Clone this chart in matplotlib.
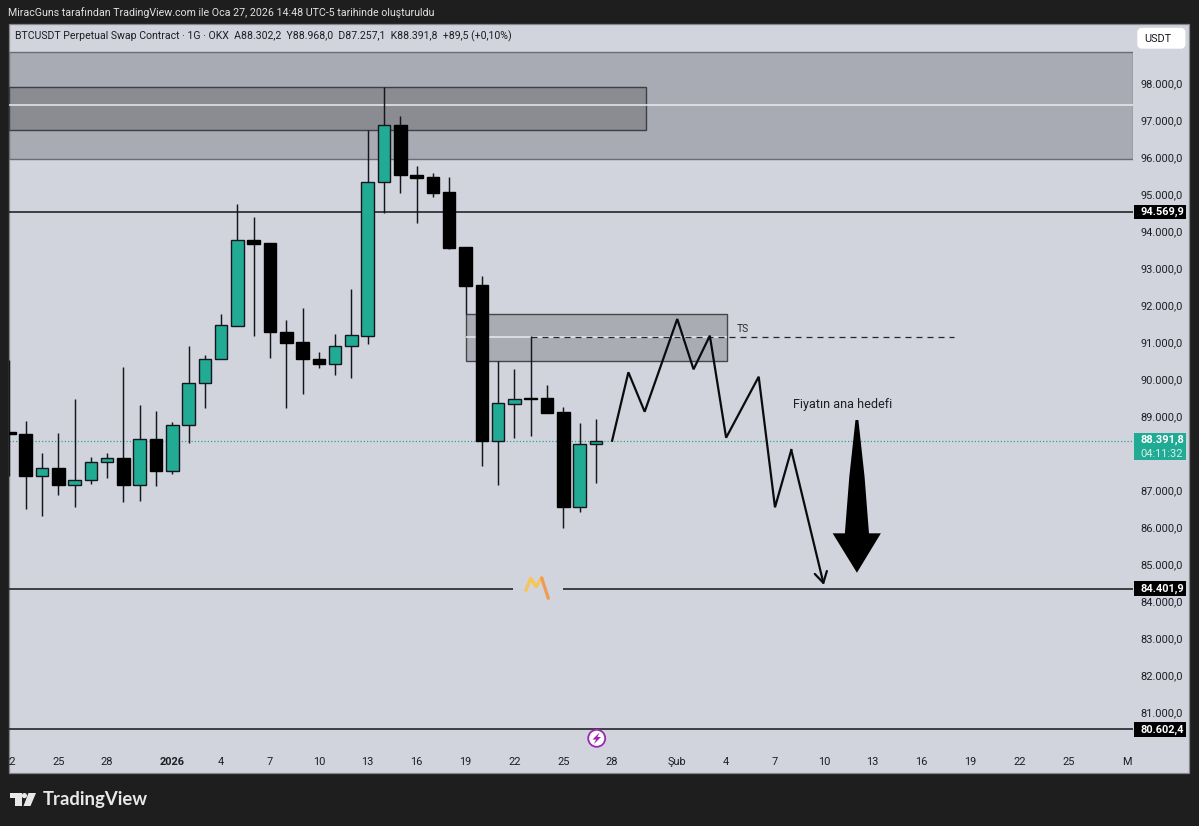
import matplotlib
matplotlib.use("Agg")
import matplotlib.pyplot as plt
from matplotlib.patches import Rectangle, Circle, Polygon, FancyBboxPatch
from matplotlib.transforms import ScaledTranslation

FONT = "Roboto"
plt.rcParams["font.family"] = [FONT, "DejaVu Sans"]

# daily candles, first one is cut by the left edge of the pane
days = list(range(-1, 36))
opens = [88630, 88585, 87443, 87651, 87192, 87327, 87821, 87929, 87192, 88442, 87586, 88812, 89946, 90590,
         91493, 93815, 93726, 91339, 91061, 90610, 90459, 90961, 91231, 95389, 96928, 95578, 95508, 95111,
         93634, 92600, 88388, 89395, 89549, 89557, 89179, 86614, 88302.2]
highs = [90574, 88928, 88056, 88596, 89530, 87956, 88072, 90386, 89368, 89206, 88901, 90953, 90710, 91817,
         94787, 94436, 93726, 91655, 91987, 90799, 91277, 92500, 96785, 97946, 97163, 95821, 95632, 95508,
         93634, 92851, 90548, 90332, 91223, 89908, 89306, 88874, 88968]
lows = [87442, 86544, 86363, 86922, 86614, 87227, 87389, 86749, 86776, 87181, 87505, 88342, 89279, 90590,
        91493, 91231, 90629, 89287, 89657, 90367, 90178, 90081, 91007, 94536, 95092, 94266, 94984, 93572,
        91817, 87721, 87200, 88469, 88523, 89136, 86047, 86479, 87257.1]
closes = [88563, 87443, 87651, 87192, 87335, 87829, 87921, 87192, 88442, 87586, 88812, 89946, 90594, 91520,
          93807, 93707, 91331, 91042, 90602, 90459, 90961, 91250, 95381, 96920, 95570, 95497, 95092, 93607,
          92581, 88388, 89406, 89530, 89514, 89152, 86614, 88299, 88391.8]

price_ticks = [98000, 97000, 96000, 95000, 94000, 93000, 92000, 91000, 90000, 89000, 88000, 87000, 86000,
               85000, 84000, 83000, 82000, 81000]
price_labels = ["98.000,0", "97.000,0", "96.000,0", "95.000,0", "94.000,0", "93.000,0", "92.000,0", "91.000,0",
                "90.000,0", "89.000,0", "88.000,0", "87.000,0", "86.000,0", "85.000,0", "84.000,0", "83.000,0",
                "82.000,0", "81.000,0"]

date_ticks = [-1, 2, 5, 9, 12, 15, 18, 21, 24, 27, 30, 33, 36, 40, 43, 46, 49, 52, 55, 58, 61, 64, 67.6]
date_labels = ["22", "25", "28", "2026", "4", "7", "10", "13", "16", "19", "22", "25", "28", "Şub", "4", "7",
               "10", "13", "16", "19", "22", "25", "M"]

level_prices = [94569.9, 84401.9, 80602.4]
level_labels = ["94.569,9", "84.401,9", "80.602,4"]
last_price = 88391.8

# projected path drawn on the chart
path_days = [36, 37, 38, 40, 41, 42, 43, 45, 46, 47, 49]
path_prices = [88396, 90242, 89178, 91681, 90323, 91230, 88476, 90123, 86597, 88144, 84499]

GREEN = "#22ab94"
DARK = "#14161c"
PANEL = "#d1d4dc"
OUTER = "#1e1e1e"
XMIN, XMAX = -1.007, 67.96

fig = plt.figure(figsize=(11.99, 8.26), dpi=100, facecolor=OUTER)

# pixel layer behind the chart for the frame
back = fig.add_axes([0, 0, 1, 1], zorder=0)
back.set_xlim(0, 1199)
back.set_ylim(826, 0)
back.axis("off")
back.add_patch(Rectangle((9.3, 24), 1179.7, 749, fc=PANEL, ec="#85868c", lw=0.9))

ax = fig.add_axes([9.3 / 1199, (826 - 773) / 826, 1123.4 / 1199, 749 / 826], zorder=1)
ax.patch.set_alpha(0)
ax.set_xlim(XMIN, XMAX)
ax.set_ylim(79424, 99645.5)
for s in ax.spines.values():
    s.set_visible(False)

# zones
ax.add_patch(Rectangle((XMIN, 96010), XMAX - XMIN, 98890 - 96010, fc="#a8abb4", ec="#6c6d74", lw=1.0, zorder=1))
ax.add_patch(Rectangle((XMIN, 96776), 38.08 - XMIN, 97937 - 96776, fc="#8a8c92", ec="#3e3f46", lw=1.0, zorder=1.1))
ax.hlines(97459, XMIN, XMAX, color="#e9eaef", lw=1.1, zorder=1.2)
ax.add_patch(Rectangle((27.03, 90539), 43.05 - 27.03, 91808 - 90539, fc="#aaacb4", ec="#45464d", lw=1.0, zorder=1))
ax.hlines(91187, 27.03, 43.05, color="#e9eaef", lw=1.1, zorder=1.2)

# levels
ax.hlines(level_prices[0], XMIN, XMAX, color=DARK, lw=1.1, zorder=1.5)
ax.hlines(level_prices[1], XMIN, 29.9, color=DARK, lw=1.1, zorder=1.5)
ax.hlines(level_prices[1], 33.0, XMAX, color=DARK, lw=1.1, zorder=1.5)
ax.hlines(level_prices[2], XMIN, XMAX, color=DARK, lw=1.1, zorder=1.5)
ax.hlines(last_price, XMIN, XMAX, color="#2fa592", lw=0.9, linestyles=(0, (1, 1.6)), zorder=1.6)
ax.plot([31, 57], [91203, 91203], color="#26272d", lw=0.9, ls=(0, (4.8, 4)), zorder=1.7)

# candles
for d, o, h, l, c in zip(days, opens, highs, lows, closes):
    up = c >= o
    ax.vlines(d, l, h, color=DARK, lw=1.05, zorder=2)
    ax.bar(d, abs(c - o), bottom=min(o, c), width=0.77, color=GREEN if up else "black",
           edgecolor=DARK if up else "black", linewidth=1.0, zorder=3)

# drawn path with open arrow head
ax.plot(path_days[:-1], path_prices[:-1], color="#0b0b0e", lw=1.6, solid_joinstyle="miter", zorder=4)
ax.annotate("", xy=(path_days[-1], path_prices[-1]), xytext=(path_days[-2], path_prices[-2]),
            arrowprops=dict(arrowstyle="->,head_length=0.55,head_width=0.32", color="#0b0b0e", lw=1.6,
                            shrinkA=0, shrinkB=0, mutation_scale=14), zorder=4)

# big target arrow
ax.add_patch(Polygon([(50.94, 88954), (51.12, 88954), (51.5, 87415), (51.77, 85895), (52.5, 85895), (51.03, 84831),
                      (49.54, 85895), (50.29, 85895), (50.56, 87415)], closed=True, fc="black", ec="none", zorder=4))

ax.text(47.12, 89386, "Fiyatın ana hedefi", color="#1d1f26", fontsize=9.1, va="center", zorder=5)
ax.text(43.68, 91420, "TS", color="#2a2c33", fontsize=7.4, va="center", zorder=5)

# price axis
ax.yaxis.tick_right()
ax.set_yticks(price_ticks)
ax.set_yticklabels(price_labels, va="center")
ax.tick_params(axis="y", length=0, pad=5.8, labelsize=7.9, labelcolor="#1c1e25")
# labels sit a little above their price
nudge = ScaledTranslation(0, 1.2 / 100, fig.dpi_scale_trans)
for lab in ax.get_yticklabels():
    lab.set_transform(lab.get_transform() + nudge)

# date axis, labels sit inside the pane
ax.set_xticks(date_ticks)
ax.set_xticklabels(date_labels, va="baseline")
ax.tick_params(axis="x", length=0, pad=-5.8, labelsize=7.9, labelcolor="#1c1e25")
for lab in ax.get_xticklabels():
    lab.set_clip_on(True)
    lab.set_clip_box(ax.bbox)
    if lab.get_text() == "2026":
        lab.set_fontweight("bold")

# price tags
tr = ax.get_yaxis_transform()
for p, lab in zip(level_prices, level_labels):
    ax.add_patch(Rectangle((1.0009, p - 195), 0.0463, 390, transform=tr, fc="black", ec="none", clip_on=False, zorder=6))
    ax.text(1.0071, p, lab, transform=tr, color="white", fontsize=7.9, va="center", fontweight="bold", clip_on=False, zorder=7)
ax.add_patch(Rectangle((1.0009, last_price - 510), 0.0463, 720, transform=tr, fc=GREEN, ec="none", clip_on=False, zorder=6))
ax.text(1.0071, last_price + 30, "88.391,8", transform=tr, color="white", fontsize=7.9, va="center", fontweight="bold", clip_on=False, zorder=7)
ax.text(1.0071, last_price - 345, "04:11:32", transform=tr, color="#d3efe9", fontsize=7.9, va="center", clip_on=False, zorder=7)

# pixel layer on top for header, footer and the small icons
top = fig.add_axes([0, 0, 1, 1], zorder=2)
top.patch.set_alpha(0)
top.set_xlim(0, 1199)
top.set_ylim(826, 0)
top.axis("off")

top.text(8, 12.5, "MiracGuns tarafından TradingView.com ile Oca 27, 2026 14:48 UTC-5 tarihinde oluşturuldu",
         color="#e2e2e2", fontsize=7.65, va="center")
top.text(15, 36.5, "BTCUSDT Perpetual Swap Contract · 1G · OKX  A88.302,2  Y88.968,0  D87.257,1  K88.391,8  +89,5 (+0,10%)",
         color="#1c1e25", fontsize=7.6, va="center")

top.add_patch(FancyBboxPatch((1138.7, 29.3), 45.3, 18, boxstyle="round,pad=0,rounding_size=3", fc="white", ec="white", lw=2))
top.text(1144, 39, "USDT", color="#1c1e25", fontsize=7.9, va="center")

# M logo on the 84.401 level
top.plot([526, 530.7, 536, 541.7], [590, 578.3, 586.7, 578], color="#f6c552", lw=2.3, solid_joinstyle="round")
top.plot([541.7, 548.3], [578, 598.3], color="#ef9a55", lw=2.3, solid_capstyle="round")

# lightning badge
top.add_patch(Circle((596.7, 738.3), 8.5, fc="white", ec="#9c27b0", lw=1.3))
top.add_patch(Polygon([(599.5, 732.5), (592.5, 739.5), (596, 739.5), (594, 744), (601, 737), (597.5, 737)], closed=True, fc="#9c27b0", ec="none"))

# TradingView logo
top.add_patch(Polygon([(10, 793), (21.7, 793), (21.7, 806), (15, 806), (15, 798), (10, 798)], closed=True, fc="#e8e8e8", ec="none"))
top.add_patch(Circle((24.4, 795.6), 2.6, fc="#e8e8e8", ec="none"))
top.add_patch(Polygon([(28.5, 793), (36, 793), (30.5, 806), (23.5, 806)], closed=True, fc="#e8e8e8", ec="none"))
top.text(42.5, 800, "TradingView", color="#e8e8e8", fontsize=13.3, family="Lato", fontweight="bold", va="center")

fig.savefig("out.png", dpi=100, facecolor=OUTER)
